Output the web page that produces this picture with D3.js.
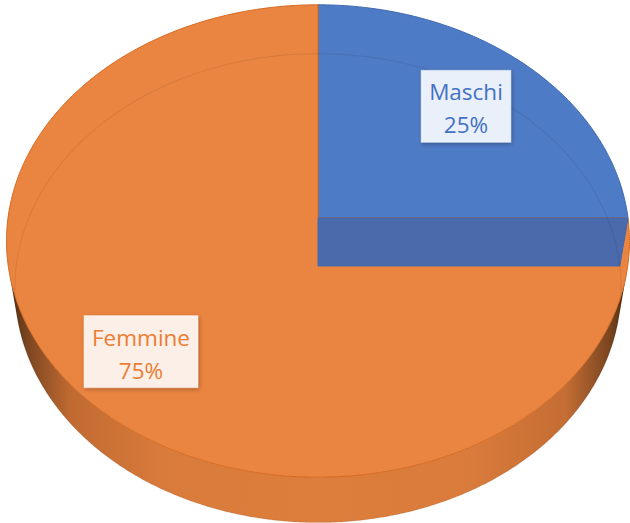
<!DOCTYPE html>
<html>
<head>
<meta charset="utf-8">
<script src="https://cdn.jsdelivr.net/npm/d3@7"></script>
<style>
  body { margin: 0; background: #fff; }
  .lbl { font-family: "Open Sans", sans-serif; font-size: 22.5px; }
</style>
</head>
<body>
<svg width="630" height="523"></svg>
<script>
// data
var categories = ["Maschi", "Femmine"];
var values     = [25, 75];
var pctLabels  = ["25%", "75%"];

// palette (top, cut face, edge, label text, label box)
var topCol   = ["#4e7bc5", "#ea8541"];
var cutCol   = ["#4a6aac", "#c86a2c"];
var edgeCol  = ["#3f68b0", "#d4691f"];
var textCol  = ["#4472c4", "#ed7d31"];
var boxCol   = ["#eaf0f9", "#fbefe8"];
var labelR   = [0.708, 0.765];

var svg = d3.select("svg");

// perspective set-up for the 3d pie
var cx = 318, cy = 218, R = 310,
    L = 6.74, tilt = 49 * Math.PI / 180, depth = 0.242,
    cs = Math.cos(tilt), sn = Math.sin(tilt), F = R * L;

function proj(r, th, z) {
  var X = r * Math.cos(th), Y = r * Math.sin(th);
  var dep = L + Y * cs - z * sn;
  return [cx + F * X / dep, cy - F * (Y * sn + z * cs) / dep];
}
function toTheta(a) { return Math.PI / 2 - a; }   // d3 pie angle -> world angle

var pie = d3.pie().sort(null).value(function(d) { return d; });
var arcs = pie(values);
var line = d3.line();

function samples(a0, a1) {
  var n = Math.max(2, Math.ceil((a1 - a0) / (Math.PI / 360))), out = [];
  for (var i = 0; i <= n; i++) out.push(a0 + (a1 - a0) * i / n);
  return out;
}

var defs = svg.append("defs");
var grad = defs.append("linearGradient")
  .attr("id", "side").attr("gradientUnits", "userSpaceOnUse")
  .attr("x1", cx - R).attr("x2", cx + R).attr("y1", 0).attr("y2", 0);
[[0, "#4a2a10"], [0.03, "#7a4520"], [0.1, "#c06a32"], [0.25, "#d97b3b"],
 [0.5, "#dd7e3c"], [0.75, "#d97b3b"], [0.9, "#c46d34"], [0.97, "#7a4520"], [1, "#4a2a10"]]
  .forEach(function(s) { grad.append("stop").attr("offset", s[0]).attr("stop-color", s[1]); });

var sh = defs.append("filter").attr("id", "shadow")
  .attr("x", "-20%").attr("y", "-20%").attr("width", "140%").attr("height", "140%");
sh.append("feDropShadow").attr("dx", 1).attr("dy", 1.5).attr("stdDeviation", 2)
  .attr("flood-color", "#000").attr("flood-opacity", 0.3);

var gSide = svg.append("g"), gTop = svg.append("g"), gCut = svg.append("g");

arcs.forEach(function(d, i) {
  var pts = samples(d.startAngle, d.endAngle);

  // outer wall, only where it faces the camera
  var run = [];
  function flush() {
    if (run.length > 1) {
      var top = run.map(function(a) { return proj(1, toTheta(a), 0); });
      var bot = run.map(function(a) { return proj(1, toTheta(a), -depth); }).reverse();
      gSide.append("path").attr("d", line(top.concat(bot)) + "Z")
        .attr("fill", "url(#side)");
    }
    run = [];
  }
  pts.forEach(function(a) {
    var facing = -1 - Math.sin(toTheta(a)) * L * cs;
    if (facing > 0) run.push(a); else flush();
  });
  flush();

  // top face
  var face = [proj(0, 0, 0)].concat(pts.map(function(a) { return proj(1, toTheta(a), 0); }));
  gTop.append("path").attr("d", line(face) + "Z")
    .attr("fill", topCol[i]).attr("stroke", edgeCol[i]).attr("stroke-width", 1);

  // radial cut faces
  [[d.startAngle, 1], [d.endAngle, -1]].forEach(function(e) {
    var th = toTheta(e[0]);
    var nx = -Math.sin(th) * e[1], ny = Math.cos(th) * e[1];
    var px = 0.5 * Math.cos(th), py = 0.5 * Math.sin(th);
    var facing = nx * (-px) + ny * (-py - L * cs);
    if (facing > 1e-6) {
      var q = [proj(0, th, 0), proj(1, th, 0), proj(1, th, -depth), proj(0, th, -depth)];
      gCut.append("path").attr("d", line(q) + "Z")
        .attr("fill", cutCol[i]).attr("stroke", edgeCol[i]).attr("stroke-width", 1);
    }
  });
});

// faint bottom rim seen through the top
var rim = samples(0, 2 * Math.PI).map(function(a) { return proj(1, toTheta(a), -depth); });
svg.append("path").attr("d", line(rim) + "Z")
  .attr("fill", "none").attr("stroke", "#000").attr("stroke-opacity", 0.07).attr("stroke-width", 1.2);

// data labels
arcs.forEach(function(d, i) {
  var mid = toTheta((d.startAngle + d.endAngle) / 2);
  var p = proj(labelR[i], mid, 0);
  var g = svg.append("g").attr("transform", "translate(" + p[0] + "," + p[1] + ")");
  var box = g.append("rect");
  var t = g.append("text").attr("class", "lbl").attr("fill", textCol[i]).attr("text-anchor", "middle");
  t.append("tspan").attr("x", 0).attr("y", -6).text(categories[i]);
  t.append("tspan").attr("x", 0).attr("y", 27).text(pctLabels[i]);
  var bb = t.node().getBBox();
  var w = bb.width + 16, h = 72;
  box.attr("x", -w / 2).attr("y", -h / 2).attr("width", w).attr("height", h)
    .attr("fill", boxCol[i]).attr("stroke", "#fff").attr("stroke-opacity", 0.35)
    .attr("filter", "url(#shadow)");
});
</script>
</body>
</html>
